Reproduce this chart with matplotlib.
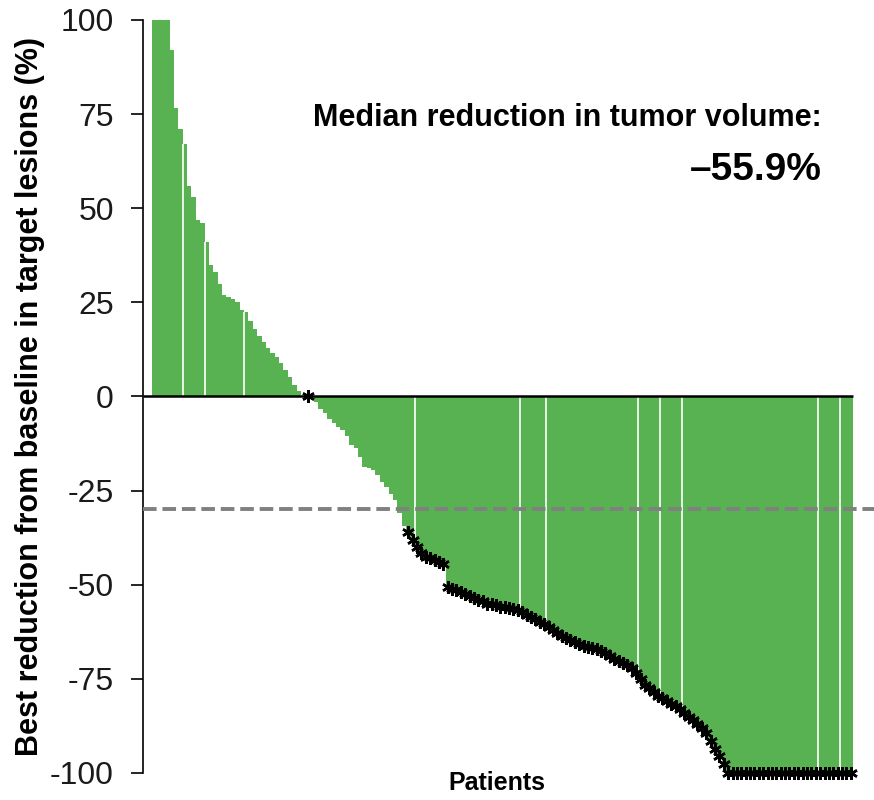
import matplotlib
matplotlib.use("Agg")

import numpy as np
import matplotlib.pyplot as plt

# best change from baseline per patient (%), sorted as in the waterfall
positive = [100, 100, 100, 100, 92, 76.5, 71, 67, 56, 53, 47, 46, 41, 35, 33, 30,
            27, 26.5, 26, 25, 23, 22.5, 20, 18, 16, 14.6, 13, 11.5, 10.6, 9, 7, 5.3,
            3, 1.5]
stable = [0, 0, 0]
minor = [-1.5, -3.2, -4.5, -6, -7, -8, -8.8, -10.6, -12.8, -13.8, -16, -18.6, -19,
         -19.5, -20.8, -22.6, -24, -25.8, -27.5, -31, -34.5]
confirmed = [-36, -38, -40, -41.5, -42.5, -43, -43.5, -44, -44.6, -50.5, -51, -51.5,
             -52, -52.5, -53, -53.5, -54, -54.4, -55, -55.2, -55.5, -55.8, -56, -56.2,
             -56.4, -56.6, -57.2, -58, -58.6, -59.2, -59.8, -60.5, -61.3, -62, -62.8,
             -63.5, -64.2, -64.6, -65.2, -65.8, -66.2, -66.5, -66.8, -67, -67.5, -68.2,
             -69, -69.6, -70.2, -70.8, -71.3, -72, -73.5, -75, -76.5, -77.5, -78.5,
             -79.5, -80.2, -81, -81.6, -82.3, -83, -84, -85, -86, -87, -88, -89.5,
             -91.5, -93.5, -95.5, -97.5] + [-100] * 29
star_stable = [1]            # index within "stable" that carries an asterisk
gap_before = [7, 12, 21, 60, 84, 90, 111, 116, 121, 152, 157]
median_text = "\u201355.9%"

values = np.array(positive + stable + minor + confirmed, dtype=float)
n = len(values)
idx = np.arange(n)
first_conf = len(positive) + len(stable) + len(minor)
star_idx = [len(positive) + s for s in star_stable] + list(range(first_conf, n))

plt.rcParams["font.family"] = ["Liberation Sans", "DejaVu Sans"]

fig = plt.figure(figsize=(8.74, 8.0), dpi=100)
ax_left, ax_right = 143 / 874, 872 / 874
ax = fig.add_axes([ax_left, 27 / 800, ax_right - ax_left, 753 / 800])

green = "#58b251"
ax.bar(idx, values, width=1.0, color=green, edgecolor="none", zorder=2)

# thin white separators between some bars
for k in gap_before:
    top = values[k - 1] if abs(values[k - 1]) < abs(values[k]) else values[k]
    ax.vlines(k - 0.5, 0, top, color="white", linewidth=1.2, zorder=3)

# asterisks mark confirmed responders
ax.plot(idx[star_idx], values[star_idx], linestyle="none", marker=(6, 2, 0),
        markersize=9, markeredgewidth=1.8, color="black", zorder=5, clip_on=False)

# pixel-based x limits so bars span 152..853 px
px_per_unit = (853 - 152) / n
ax.set_xlim(-0.5 - (152 - 143) / px_per_unit, n - 0.5 + (872 - 853) / px_per_unit)
ax.set_ylim(-100, 100)

ax.hlines(0, ax.get_xlim()[0], n - 0.5, color="black", linewidth=1.8, zorder=4)
ax.axhline(-30, color="#808080", linestyle=(0, (3.5, 1.5)), linewidth=2.8, zorder=4,
           xmax=1.02, clip_on=False)

for side in ["top", "right", "bottom"]:
    ax.spines[side].set_visible(False)
ax.spines["left"].set_linewidth(1.2)
ax.set_xticks([])
ticks = [100, 75, 50, 25, 0, -25, -50, -75, -100]
ax.set_yticks(ticks)
ax.set_yticklabels([str(t) for t in ticks], fontsize=23, color="#1a1a1a")
ax.tick_params(axis="y", direction="out", length=9, width=1.2, pad=12)
ax.patch.set_alpha(0)

fig.text(30 / 874, 1 - 397 / 800, "Best reduction from baseline in target lesions (%)",
         rotation=90, ha="center", va="center", fontsize=22, fontweight="bold")
fig.text(497 / 874, 1 - 783 / 800, "Patients", ha="center", va="center",
         fontsize=18, fontweight="bold")
fig.text(822 / 874, 1 - 118 / 800, "Median reduction in tumor volume:",
         ha="right", va="center", fontsize=22, fontweight="bold")
fig.text(822 / 874, 1 - 170 / 800, median_text,
         ha="right", va="center", fontsize=28, fontweight="bold")

fig.savefig("out.png", dpi=100)
